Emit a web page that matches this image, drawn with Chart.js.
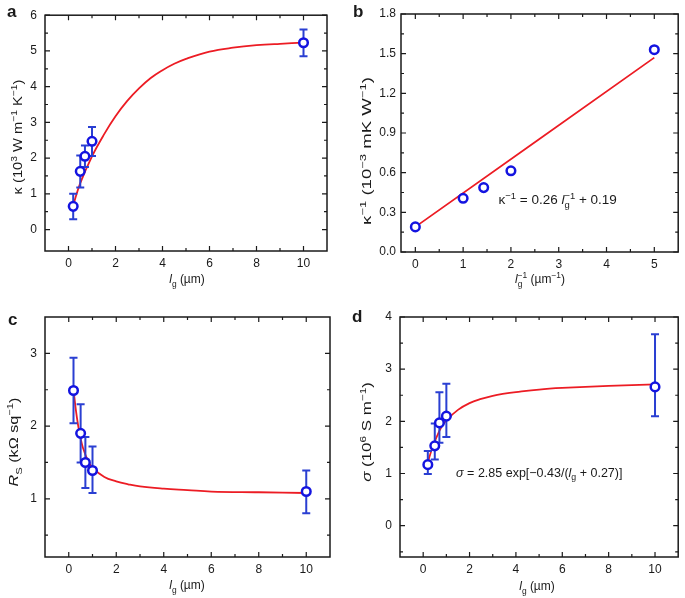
<!DOCTYPE html>
<html lang="en">
<head>
  <meta charset="UTF-8" />
  <title>Thermal and electrical transport vs grain size</title>
  <script src="https://cdn.jsdelivr.net/npm/chart.js"></script>
  <style>
    body {
      margin: 0;
      background: #fff;
    }
    .wrap {
      position: relative;
      width: 685px;
      height: 598px;
    }
    .panel {
      position: absolute;
    }
  </style>
</head>
<body>
  <div class="wrap">
    <canvas class="panel" id="chartA" width="342" height="300" style="left:0;top:0"></canvas>
    <canvas class="panel" id="chartB" width="343" height="300" style="left:342px;top:0"></canvas>
    <canvas class="panel" id="chartC" width="342" height="298" style="left:0;top:300px"></canvas>
    <canvas class="panel" id="chartD" width="343" height="298" style="left:342px;top:300px"></canvas>
  </div>

  <script>
    // grain size (um) used in a, c, d
    const grainSize = [0.2, 0.5, 0.7, 1, 10];

    // a: thermal conductivity (10^3 W/mK)
    const kappa = [0.65, 1.63, 2.05, 2.47, 5.23];
    const kappaLo = [0.29, 1.18, 1.75, 2.06, 4.85];
    const kappaHi = [1.0, 2.07, 2.35, 2.87, 5.6];
    const kappaFitX = [0.2, 0.5, 1, 1.5, 2, 2.5, 3, 3.5, 4, 4.5, 5, 6, 7, 8, 9, 10];
    const kappaFitY = [0.68, 1.3, 2.05, 2.65, 3.17, 3.6, 3.95, 4.24, 4.46, 4.64, 4.78, 4.98, 5.09, 5.16, 5.2, 5.23];

    // b: inverse plot
    const invGrain = [0, 1, 1.43, 2, 5];
    const invKappa = [0.19, 0.406, 0.487, 0.614, 1.53];
    const invFitX = [0, 5];
    const invFitY = [0.19, 1.47];

    // c: sheet resistance (kOhm/sq)
    const rs = [2.49, 1.9, 1.5, 1.39, 1.1];
    const rsLo = [2.04, 1.5, 1.15, 1.08, 0.8];
    const rsHi = [2.94, 2.3, 1.85, 1.72, 1.39];
    const rsFitX = [0.2, 0.3, 0.4, 0.5, 0.6, 0.8, 1, 1.5, 2, 2.5, 3, 4, 5, 6, 8, 10];
    const rsFitY = [2.5, 2.22, 2.0, 1.83, 1.7, 1.53, 1.43, 1.3, 1.24, 1.2, 1.17, 1.14, 1.12, 1.1, 1.09, 1.08];

    // d: conductivity (10^6 S/m)
    const sigma = [1.17, 1.53, 1.97, 2.1, 2.66];
    const sigmaLo = [0.99, 1.27, 1.59, 1.7, 2.1];
    const sigmaHi = [1.43, 1.96, 2.56, 2.72, 3.67];
    const sigmaFitX = [0.2, 0.4, 0.6, 0.8, 1, 1.5, 2, 2.5, 3, 3.5, 4, 5, 6, 8, 10];
    const sigmaFitY = [1.22, 1.5, 1.72, 1.9, 2.02, 2.22, 2.35, 2.43, 2.49, 2.53, 2.56, 2.61, 2.64, 2.68, 2.71];

    // ticks
    const grainTicks = [0, 2, 4, 6, 8, 10];
    const grainMinor = [1, 3, 5, 7, 9];
    const kappaTicks = [0, 1, 2, 3, 4, 5, 6];
    const kappaMinor = [0.5, 1.5, 2.5, 3.5, 4.5, 5.5];
    const invTicks = [0, 1, 2, 3, 4, 5];
    const invMinor = [0.5, 1.5, 2.5, 3.5, 4.5];
    const invKappaTicks = [0, 0.3, 0.6, 0.9, 1.2, 1.5, 1.8];
    const invKappaMinor = [0.15, 0.45, 0.75, 1.05, 1.35, 1.65];
    const rsTicks = [1, 2, 3];
    const rsMinor = [0.5, 1.5, 2.5];
    const sigmaTicks = [0, 1, 2, 3, 4];
    const sigmaMinor = [-0.5, 0.5, 1.5, 2.5, 3.5];

    const BLUE = '#1414e0';
    const BAR = '#2a3fd2';
    const RED = '#ec1c24';
    const INK = '#1a1a1a';
    const FONT = '"Liberation Sans", Arial, sans-serif';

    // draw text made of pieces (italic, sub, sup); stretch widens it along its run
    function richText(ctx, segs, x, y, size, align, rotate, stretch) {
      let pos = 0, prevStart = 0;
      const items = [];
      segs.forEach(s => {
        const fs = (s.sub || s.sup) ? size * 0.7 : size;
        const font = (s.it ? 'italic ' : '') + fs + 'px ' + FONT;
        ctx.font = font;
        const w = ctx.measureText(s.t).width;
        const sx = s.stack ? prevStart : pos;
        items.push({ t: s.t, font, x: sx, dy: s.sup ? -size * 0.4 : s.sub ? size * 0.3 : 0 });
        pos = s.stack ? Math.max(pos, sx + w) : sx + w;
        prevStart = sx;
      });
      const start = align === 'center' ? -pos / 2 : 0;
      ctx.save();
      ctx.translate(x, y);
      if (rotate) ctx.rotate(-Math.PI / 2);
      if (stretch) ctx.scale(stretch, 1);
      ctx.fillStyle = INK;
      ctx.textBaseline = 'alphabetic';
      ctx.textAlign = 'left';
      items.forEach(it => {
        ctx.font = it.font;
        ctx.fillText(it.t, start + it.x, it.dy);
      });
      ctx.restore();
    }

    const panelPlugin = {
      id: 'panel',
      beforeDatasetDraw(chart, args, p) {
        if (args.index !== 0 || !p.lo) return;
        const { ctx, scales: { x, y } } = chart;
        ctx.save();
        ctx.strokeStyle = BAR;
        ctx.lineWidth = 2;
        p.xs.forEach((v, i) => {
          const px = x.getPixelForValue(v);
          const top = y.getPixelForValue(p.hi[i]);
          const bot = y.getPixelForValue(p.lo[i]);
          ctx.beginPath();
          ctx.moveTo(px, top); ctx.lineTo(px, bot);
          ctx.moveTo(px - 4, top); ctx.lineTo(px + 4, top);
          ctx.moveTo(px - 4, bot); ctx.lineTo(px + 4, bot);
          ctx.stroke();
        });
        ctx.restore();
      },
      afterDraw(chart, args, p) {
        const { ctx, chartArea: a, scales: { x, y } } = chart;
        ctx.save();
        ctx.strokeStyle = INK;
        ctx.lineWidth = 1.5;
        ctx.strokeRect(a.left, a.top, a.right - a.left, a.bottom - a.top);
        ctx.lineWidth = 1.2;
        ctx.beginPath();
        const xt = (vals, len) => vals.forEach(v => {
          const px = x.getPixelForValue(v);
          ctx.moveTo(px, a.bottom); ctx.lineTo(px, a.bottom - len);
          ctx.moveTo(px, a.top); ctx.lineTo(px, a.top + len);
        });
        const yt = (vals, len) => vals.forEach(v => {
          const py = y.getPixelForValue(v);
          ctx.moveTo(a.left, py); ctx.lineTo(a.left + len, py);
          ctx.moveTo(a.right, py); ctx.lineTo(a.right - len, py);
        });
        xt(p.xMajor, 5); xt(p.xMinor, 3);
        yt(p.yMajor, 5); yt(p.yMinor, 3);
        ctx.stroke();
        ctx.restore();

        ctx.save();
        ctx.fillStyle = INK;
        ctx.font = 'bold 17px ' + FONT;
        ctx.fillText(p.letter, p.letterPos[0], p.letterPos[1]);
        ctx.restore();

        richText(ctx, p.xTitle, p.xTitlePos[0], p.xTitlePos[1], 12, 'center', false);
        richText(ctx, p.yTitle, p.yTitlePos[0], p.yTitlePos[1], 13, 'center', true, p.yStretch);
        if (p.note) {
          richText(ctx, p.note, x.getPixelForValue(p.notePos[0]), y.getPixelForValue(p.notePos[1]), p.noteSize, 'left', false);
        }
      }
    };

    function makePanel(id, p) {
      const el = document.getElementById(id);
      const W = el.width, H = el.height;
      const pts = p.xs.map((v, i) => ({ x: v, y: p.ys[i] }));
      const fit = p.fitX.map((v, i) => ({ x: v, y: p.fitY[i] }));
      const tickFont = { family: FONT, size: 12 };
      return new Chart(el, {
        type: 'scatter',
        data: {
          datasets: [
            {
              data: pts,
              showLine: false,
              pointRadius: 4.3,
              pointBorderWidth: 2.5,
              pointBorderColor: BLUE,
              pointBackgroundColor: '#fff'
            },
            {
              data: fit,
              showLine: true,
              pointRadius: 0,
              borderColor: RED,
              borderWidth: 1.8,
              tension: 0.4
            }
          ]
        },
        options: {
          responsive: false,
          animation: false,
          events: [],
          layout: { padding: { left: 0, top: p.box.t, right: W - p.box.r, bottom: 0 } },
          plugins: {
            legend: { display: false },
            tooltip: { enabled: false },
            panel: p
          },
          scales: {
            x: {
              type: 'linear',
              min: p.xRange[0],
              max: p.xRange[1],
              grid: { display: false, drawTicks: false },
              border: { display: false },
              ticks: { font: tickFont, color: INK, padding: 5, maxRotation: 0 },
              afterBuildTicks: s => { s.ticks = p.xMajor.map(v => ({ value: v })); },
              afterFit: s => { s.height = H - p.box.b; }
            },
            y: {
              type: 'linear',
              min: p.yRange[0],
              max: p.yRange[1],
              grid: { display: false, drawTicks: false },
              border: { display: false },
              ticks: { font: tickFont, color: INK, padding: p.yPad, callback: p.yFmt || (v => v) },
              afterBuildTicks: s => { s.ticks = p.yMajor.map(v => ({ value: v })); },
              afterFit: s => { s.width = p.box.l; }
            }
          }
        },
        plugins: [panelPlugin]
      });
    }

    const lgTitle = [{ t: 'l', it: 1 }, { t: 'g', sub: 1 }, { t: ' (\u00b5m)' }];

    makePanel('chartA', {
      xs: grainSize, ys: kappa, lo: kappaLo, hi: kappaHi,
      fitX: kappaFitX, fitY: kappaFitY,
      xRange: [-1, 11], yRange: [-0.6, 6],
      xMajor: grainTicks, xMinor: grainMinor, yMajor: kappaTicks, yMinor: kappaMinor,
      box: { l: 45, r: 327, t: 14, b: 251 }, yPad: 8,
      letter: 'a', letterPos: [7, 17],
      xTitle: lgTitle, xTitlePos: [187, 283],
      yTitle: [{ t: '\u03ba (10' }, { t: '3', sup: 1 }, { t: ' W m' }, { t: '\u22121', sup: 1 }, { t: ' K' }, { t: '\u22121', sup: 1 }, { t: ')' }],
      yTitlePos: [22, 137], yStretch: 1.13
    });

    makePanel('chartB', {
      xs: invGrain, ys: invKappa,
      fitX: invFitX, fitY: invFitY,
      xRange: [-0.3, 5.5], yRange: [0, 1.8],
      xMajor: invTicks, xMinor: invMinor, yMajor: invKappaTicks, yMinor: invKappaMinor,
      yFmt: v => v.toFixed(1),
      box: { l: 59, r: 340, t: 14, b: 252 }, yPad: 5,
      letter: 'b', letterPos: [11, 17],
      xTitle: [{ t: 'l', it: 1 }, { t: 'g', sub: 1 }, { t: '\u22121', sup: 1, stack: 1 }, { t: ' (\u00b5m' }, { t: '\u22121', sup: 1 }, { t: ')' }],
      xTitlePos: [198, 283],
      yTitle: [{ t: '\u03ba' }, { t: '\u22121', sup: 1 }, { t: ' (10' }, { t: '\u22123', sup: 1 }, { t: ' mK W' }, { t: '\u22121', sup: 1 }, { t: ')' }],
      yTitlePos: [29, 151], yStretch: 1.43,
      note: [{ t: '\u03ba' }, { t: '\u22121', sup: 1 }, { t: ' = 0.26 ' }, { t: 'l', it: 1 }, { t: 'g', sub: 1 }, { t: '\u22121', sup: 1, stack: 1 }, { t: ' + 0.19' }],
      notePos: [1.74, 0.36], noteSize: 13.5
    });

    makePanel('chartC', {
      xs: grainSize, ys: rs, lo: rsLo, hi: rsHi,
      fitX: rsFitX, fitY: rsFitY,
      xRange: [-1, 11], yRange: [0.2, 3.5],
      xMajor: grainTicks, xMinor: grainMinor, yMajor: rsTicks, yMinor: rsMinor,
      box: { l: 45, r: 330, t: 17, b: 257 }, yPad: 8,
      letter: 'c', letterPos: [8, 25],
      xTitle: lgTitle, xTitlePos: [187, 289],
      yTitle: [{ t: 'R', it: 1 }, { t: 'S', sub: 1 }, { t: ' (k\u03a9 sq' }, { t: '\u22121', sup: 1 }, { t: ')' }],
      yTitlePos: [18, 142], yStretch: 1.24
    });

    makePanel('chartD', {
      xs: grainSize, ys: sigma, lo: sigmaLo, hi: sigmaHi,
      fitX: sigmaFitX, fitY: sigmaFitY,
      xRange: [-1, 11], yRange: [-0.6, 4],
      xMajor: grainTicks, xMinor: grainMinor, yMajor: sigmaTicks, yMinor: sigmaMinor,
      box: { l: 58, r: 341, t: 17, b: 257 }, yPad: 8,
      letter: 'd', letterPos: [10, 22],
      xTitle: lgTitle, xTitlePos: [195, 290],
      yTitle: [{ t: '\u03c3', it: 1 }, { t: ' (10' }, { t: '6', sup: 1 }, { t: ' S m' }, { t: '\u22121', sup: 1 }, { t: ')' }],
      yTitlePos: [29, 132], yStretch: 1.3,
      note: [{ t: '\u03c3', it: 1 }, { t: ' = 2.85 exp[\u22120.43/(' }, { t: 'l', it: 1 }, { t: 'g', sub: 1 }, { t: ' + 0.27)]' }],
      notePos: [1.42, 0.94], noteSize: 12.5
    });
  </script>
</body>
</html>
